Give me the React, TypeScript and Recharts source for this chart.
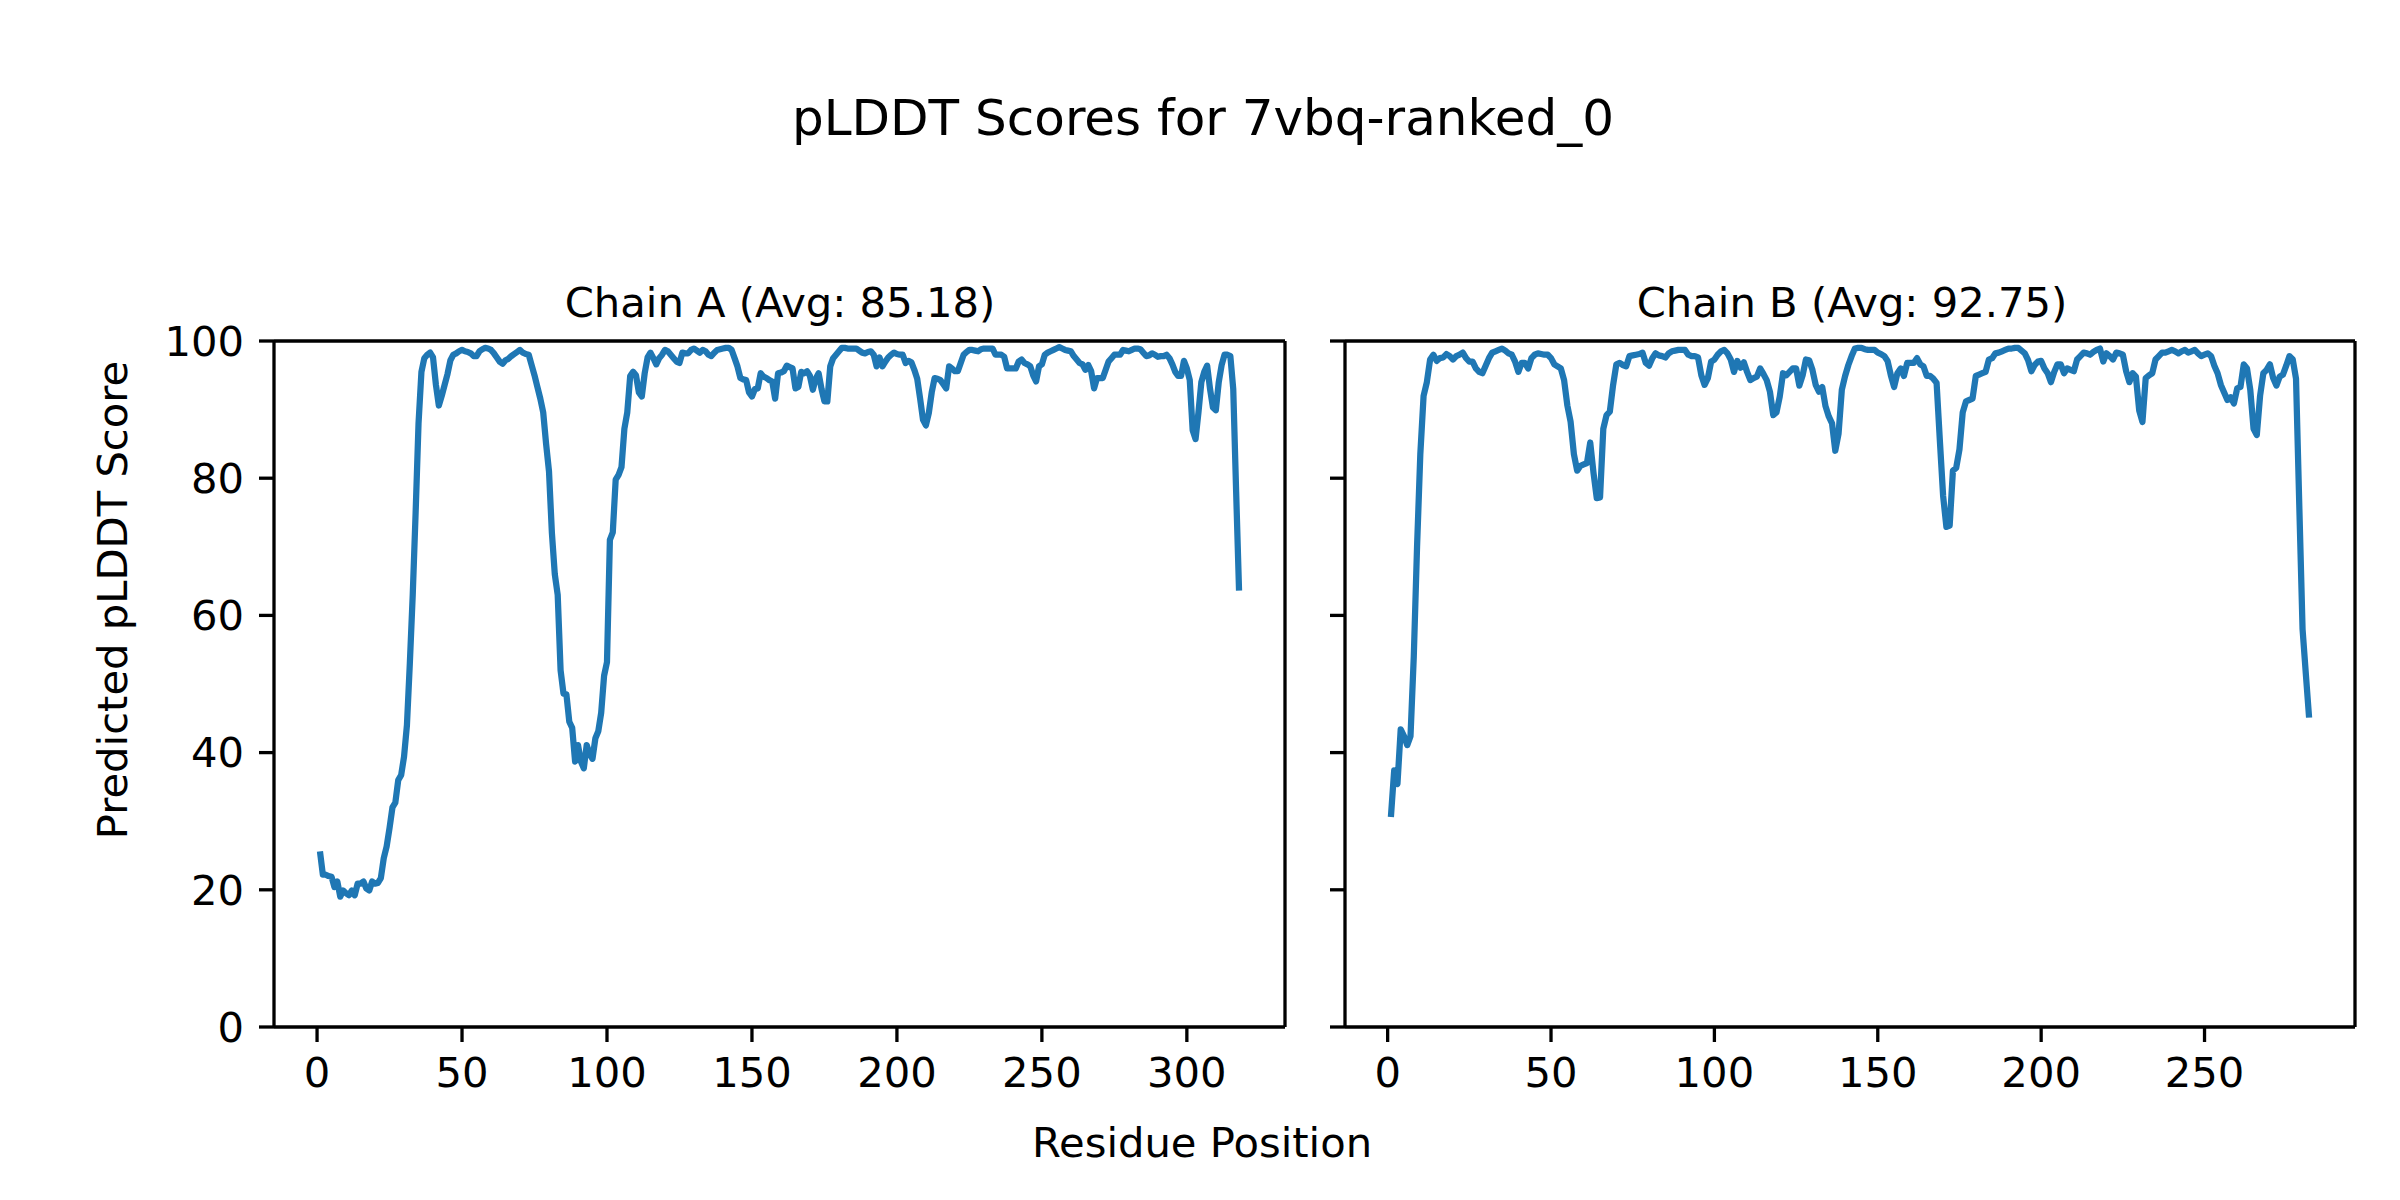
import React from "react";
import { LineChart, Line, XAxis, YAxis, ReferenceLine } from "recharts";

// pLDDT per residue (residue = index + 1)
const chainAScores = [
  25.6, 22.2, 22.2, 22.0, 21.9, 20.4, 21.2, 19.0, 19.9, 19.5,
  19.2, 19.9, 19.2, 20.9, 20.9, 21.2, 20.2, 19.9, 21.2, 20.9,
  21.0, 21.7, 24.6, 26.3, 29.0, 32.0, 32.7, 36.0, 36.7, 39.4,
  44.0, 53.0, 63.0, 75.0, 88.0, 95.5, 97.5, 98.0, 98.3, 97.6,
  93.6, 90.6, 92.0, 93.6, 95.2, 97.2, 98.0, 98.2, 98.5, 98.7,
  98.5, 98.4, 98.2, 97.8, 97.8, 98.5, 98.8, 99.0, 98.9, 98.7,
  98.2, 97.6, 97.0, 96.7, 97.2, 97.4, 97.8, 98.1, 98.4, 98.7,
  98.3, 98.1, 98.0, 96.5, 95.0, 93.3, 91.6, 89.6, 85.0, 81.0,
  72.0, 66.0, 63.0, 52.0, 48.6, 48.5, 44.5, 43.6, 38.7, 41.1,
  38.7, 37.7, 41.1, 39.8, 39.1, 42.1, 43.1, 45.8, 51.2, 53.2,
  71.0, 72.1, 79.8, 80.5, 81.6, 87.2, 89.6, 94.9, 95.5, 95.0,
  92.5, 91.9, 95.3, 97.6, 98.3, 97.5, 96.6, 97.5, 98.0, 98.7,
  98.5, 98.0, 97.5, 97.0, 96.8, 98.3, 98.2, 98.2, 98.7, 98.9,
  98.6, 98.3, 98.7, 98.5, 98.0, 97.8, 98.3, 98.7, 98.8, 98.9,
  99.0, 99.0, 98.7, 97.5, 96.3, 94.6, 94.4, 94.3, 92.5, 91.9,
  93.0, 93.1, 95.3, 94.8, 94.6, 94.3, 94.1, 91.6, 95.3, 95.4,
  95.6, 96.4, 96.2, 96.0, 93.1, 93.3, 95.5, 95.3, 95.6, 94.9,
  92.9, 94.5, 95.3, 93.0, 91.2, 91.2, 96.3, 97.5, 98.0, 98.5,
  99.0, 99.0, 98.9, 98.9, 98.9, 98.9, 98.6, 98.3, 98.2, 98.4,
  98.5, 98.0, 96.3, 97.6, 96.3, 97.0, 97.6, 98.0, 98.3, 98.1,
  98.0, 98.0, 96.8, 97.1, 96.9, 95.8, 94.5, 91.6, 88.5, 87.7,
  89.5, 92.5, 94.6, 94.5, 94.3, 93.7, 93.1, 96.3, 96.0, 95.6,
  95.6, 96.8, 98.0, 98.4, 98.7, 98.7, 98.6, 98.5, 98.8, 98.9,
  98.9, 98.9, 98.9, 98.0, 98.0, 98.0, 97.7, 96.0, 96.0, 96.0,
  96.0, 97.0, 97.3, 96.8, 96.6, 96.3, 95.0, 94.1, 96.3, 96.6,
  98.0, 98.3, 98.5, 98.7, 98.9, 99.1, 98.9, 98.7, 98.6, 98.5,
  97.8, 97.3, 96.8, 96.6, 95.8, 96.5, 95.6, 93.1, 94.6, 94.6,
  94.6, 95.8, 97.0, 97.5, 98.0, 98.0, 98.0, 98.7, 98.6, 98.5,
  98.7, 98.9, 98.9, 98.8, 98.3, 97.8, 97.9, 98.2, 98.0, 97.7,
  97.8, 97.8, 98.0, 97.5, 96.6, 95.5, 94.9, 94.9, 97.1, 96.0,
  94.3, 87.0, 85.7, 89.6, 94.0, 95.5, 96.4, 93.0, 90.3, 89.9,
  94.0, 96.5, 98.0, 98.0, 97.8, 93.0, 78.0, 63.6,
];

const chainBScores = [
  30.6, 37.4, 35.4, 43.4, 42.4, 41.1, 42.4, 54.0, 70.0, 83.5,
  92.0, 94.0, 97.3, 98.0, 97.1, 97.5, 97.6, 98.1, 97.8, 97.3,
  97.8, 98.0, 98.3, 97.5, 97.0, 97.0, 96.0, 95.5, 95.3, 96.4,
  97.5, 98.3, 98.5, 98.7, 98.9, 98.6, 98.2, 98.0, 97.0, 95.5,
  96.8, 96.8, 96.0, 97.5, 98.0, 98.2, 98.1, 98.0, 98.0, 97.5,
  96.6, 96.3, 96.0, 94.3, 90.6, 88.2, 83.5, 81.1, 81.8, 82.0,
  82.2, 85.2, 80.8, 77.1, 77.2, 87.2, 89.2, 89.7, 93.6, 96.6,
  96.8, 96.5, 96.3, 97.8, 97.9, 98.0, 98.1, 98.3, 96.8, 96.4,
  97.5, 98.2, 97.9, 97.8, 97.6, 98.2, 98.5, 98.6, 98.7, 98.7,
  98.7, 98.0, 97.8, 97.8, 97.6, 95.0, 93.6, 94.6, 97.0, 97.3,
  98.0, 98.5, 98.7, 98.2, 97.3, 95.5, 97.1, 96.1, 96.9, 95.5,
  94.3, 94.6, 94.8, 96.0, 95.2, 94.3, 92.6, 89.2, 89.6, 91.9,
  95.3, 95.0, 95.5, 96.0, 96.0, 93.5, 95.0, 97.3, 97.2, 95.8,
  93.6, 92.6, 93.3, 90.5, 89.0, 88.0, 84.0, 86.5, 92.9, 94.9,
  96.5, 97.8, 98.9, 99.0, 99.0, 98.8, 98.7, 98.7, 98.7, 98.3,
  98.1, 97.8, 97.1, 95.0, 93.3, 95.3, 96.0, 94.9, 96.8, 96.8,
  96.8, 97.5, 96.6, 96.3, 94.9, 94.9, 94.5, 93.9, 85.5, 77.4,
  72.9, 73.1, 81.1, 81.5, 84.2, 89.6, 91.2, 91.4, 91.6, 94.9,
  95.1, 95.3, 95.5, 97.3, 97.5, 98.2, 98.3, 98.5, 98.7, 98.9,
  98.9, 99.0, 99.0, 98.6, 98.2, 97.2, 95.6, 96.5, 97.0, 97.1,
  96.0, 95.3, 94.0, 95.5, 96.6, 96.6, 95.3, 96.0, 95.8, 95.6,
  97.3, 97.8, 98.3, 98.2, 98.0, 98.4, 98.7, 98.9, 97.0, 98.2,
  97.8, 97.3, 98.3, 98.2, 98.0, 95.6, 94.0, 95.3, 94.8, 89.9,
  88.2, 94.6, 95.0, 95.3, 97.3, 97.8, 98.3, 98.3, 98.5, 98.7,
  98.5, 98.2, 98.5, 98.7, 98.3, 98.5, 98.7, 98.2, 97.8, 98.0,
  98.2, 97.8, 96.4, 95.3, 93.6, 92.5, 91.4, 91.8, 90.9, 93.1,
  93.3, 96.6, 96.0, 92.9, 87.2, 86.3, 92.0, 95.3, 95.8, 96.6,
  94.6, 93.5, 94.8, 95.1, 96.4, 97.8, 97.3, 94.5, 76.0, 58.0,
  51.5, 45.1,
];

const chainATicks = [0, 50, 100, 150, 200, 250, 300];
const chainBTicks = [0, 50, 100, 150, 200, 250];
const scoreTicks = [0, 20, 40, 60, 80, 100];

const figTitle = "pLDDT Scores for 7vbq-ranked_0";
const chainATitle = "Chain A (Avg: 85.18)";
const chainBTitle = "Chain B (Avg: 92.75)";
const xLabel = "Residue Position";
const yLabel = "Predicted pLDDT Score";

const FONT = "'DejaVu Sans', sans-serif";
const BLUE = "#1f77b4";
const SPINE = { stroke: "#000", strokeWidth: 3.3 };
const tickStyle = { fill: "#000", fontSize: 41.7, fontFamily: FONT };

function toRows(scores: number[]) {
  return scores.map((s, i) => ({ residue: i + 1, score: s }));
}

// matplotlib's 5% x-margin around the data range
function paddedDomain(n: number): [number, number] {
  const span = n - 1;
  return [1 - span * 0.05, n + span * 0.05];
}

// shared y axis: keep tick marks, drop labels on the right panel
const NoLabel = () => <g />;

function ChainPanel({
  scores,
  ticks,
  width,
  yAxisWidth,
  rightMargin,
  showYLabels,
}: {
  scores: number[];
  ticks: number[];
  width: number;
  yAxisWidth: number;
  rightMargin: number;
  showYLabels: boolean;
}) {
  const domain = paddedDomain(scores.length);
  return (
    <LineChart
      width={width}
      height={1100}
      data={toRows(scores)}
      margin={{ top: 341, right: rightMargin, bottom: 0, left: 0 }}
    >
      <XAxis
        dataKey="residue"
        type="number"
        domain={domain}
        ticks={ticks}
        interval={0}
        allowDataOverflow
        height={73}
        tickSize={15}
        tickMargin={15}
        tick={tickStyle}
        tickLine={SPINE}
        axisLine={SPINE}
      />
      <YAxis
        type="number"
        domain={[0, 100]}
        ticks={scoreTicks}
        interval={0}
        width={yAxisWidth}
        tickSize={15}
        tickMargin={15}
        tick={showYLabels ? tickStyle : NoLabel}
        tickLine={SPINE}
        axisLine={SPINE}
      />
      {/* top and right spines */}
      <ReferenceLine y={100} stroke="#000" strokeWidth={3.3} ifOverflow="visible" />
      <ReferenceLine x={domain[1]} stroke="#000" strokeWidth={3.3} ifOverflow="visible" />
      <Line
        type="linear"
        dataKey="score"
        stroke={BLUE}
        strokeWidth={6.25}
        strokeLinejoin="round"
        dot={false}
        activeDot={false}
        isAnimationActive={false}
      />
    </LineChart>
  );
}

function Label({
  text,
  x,
  y,
  size,
  rotate = 0,
}: {
  text: string;
  x: number;
  y: number;
  size: number;
  rotate?: number;
}) {
  return (
    <div
      style={{
        position: "absolute",
        left: x,
        top: y,
        transform: `translate(-50%, -50%) rotate(${rotate}deg)`,
        fontFamily: FONT,
        fontSize: size,
        lineHeight: 1,
        whiteSpace: "nowrap",
        color: "#000",
      }}
    >
      {text}
    </div>
  );
}

export default function App() {
  return (
    <div
      style={{
        position: "absolute",
        left: 0,
        top: 0,
        width: 2400,
        height: 1200,
        background: "#fff",
        overflow: "hidden",
      }}
    >
      <div style={{ position: "absolute", left: 0, top: 0 }}>
        <ChainPanel
          scores={chainAScores}
          ticks={chainATicks}
          width={1300}
          yAxisWidth={274}
          rightMargin={15}
          showYLabels
        />
      </div>
      <div style={{ position: "absolute", left: 1300, top: 0 }}>
        <ChainPanel
          scores={chainBScores}
          ticks={chainBTicks}
          width={1100}
          yAxisWidth={45}
          rightMargin={45}
          showYLabels={false}
        />
      </div>

      <Label text={figTitle} x={1203} y={118} size={50} />
      <Label text={chainATitle} x={780} y={303} size={41.7} />
      <Label text={chainBTitle} x={1852} y={303} size={41.7} />
      <Label text={xLabel} x={1202} y={1143} size={41.7} />
      <Label text={yLabel} x={113} y={600} size={41.7} rotate={-90} />
    </div>
  );
}
